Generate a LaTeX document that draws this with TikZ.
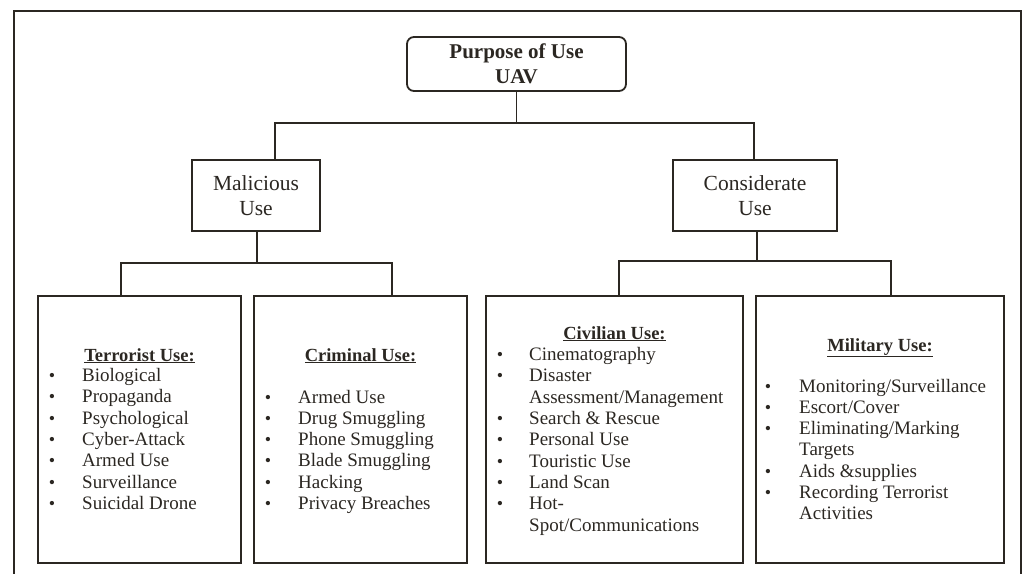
\documentclass[tikz,border=0pt]{standalone}
\usepackage{fontspec}
\setmainfont{Liberation Serif}
\usetikzlibrary{calc}
\definecolor{ink}{HTML}{2B2722}
\tikzset{
  x=1pt, y=-1pt,
  box/.style={draw=ink, line width=1.8pt, rectangle, inner sep=0pt, anchor=center, text=ink},
  link/.style={draw=ink, line width=1.8pt},
  frame/.style={draw=ink, line width=1.8pt},
  head/.style={font=\fontsize{18.5}{21}\selectfont\bfseries, text=ink, anchor=base, inner sep=0pt},
  entry/.style={font=\fontsize{19}{21}\selectfont, text=ink, anchor=base west, inner sep=0pt},
  dot/.style={font=\fontsize{18}{20}\selectfont, text=ink, anchor=base, inner sep=0pt}
}
% bullet list: prefix, bullet x, text x, first baseline, entries {flag}/{text}
\newcommand\bulletlist[5]{%
  \foreach \b/\t [count=\i from 0] in {#5} {
    \node[entry] (#1-t\i) at (#3, {#4 + \i*21.33}) {\t};
    \ifnum\b=1 \node[dot] (#1-b\i) at (#2, {#4 + \i*21.33}) {\textbullet}; \fi
  }%
}
\begin{document}
\begin{tikzpicture}
\useasboundingbox (0,0) rectangle (1024,573);
% outer frame (bottom edge lies below the page)
\draw[frame] (14,580) -- (14,11) -- (1021,11) -- (1021,580);

% boxes
\node[box, rounded corners=7pt, minimum width=219pt, minimum height=54pt, align=center,
      font=\fontsize{21}{25}\selectfont\bfseries] (root) at (516.5,64) {Purpose of Use\\UAV};
\node[box, minimum width=128pt, minimum height=71pt, align=center,
      font=\fontsize{21.5}{25}\selectfont] (mal) at (256,195.5) {Malicious\\Use};
\node[box, minimum width=164pt, minimum height=71pt, align=center,
      font=\fontsize{21.5}{25}\selectfont] (con) at (755,195.5) {Considerate\\Use};
\node[box, minimum width=203pt, minimum height=267pt] (terr) at (139.5,429.5) {};
\node[box, minimum width=213pt, minimum height=267pt] (crim) at (360.5,429.5) {};
\node[box, minimum width=257pt, minimum height=267pt] (civ) at (614.5,429.5) {};
\node[box, minimum width=248pt, minimum height=267pt] (mil) at (880,429.5) {};

% connectors
\coordinate (j0) at (516.5,123);
\coordinate (j1) at (257,263);
\coordinate (j2) at (757,261);
\draw[link] (root.south) -- (j0);
\draw[link] (j0) -| ([xshift=19pt]mal.north);
\draw[link] (j0) -| ([xshift=-1pt]con.north);
\draw[link] (mal.south -| j1) -- (j1);
\draw[link] (j1) -| ([xshift=-18.5pt]terr.north);
\draw[link] (j1) -| ([xshift=31.5pt]crim.north);
\draw[link] (con.south -| j2) -- (j2);
\draw[link] (j2) -| ([xshift=4.5pt]civ.north);
\draw[link] (j2) -| ([xshift=11pt]mil.north);

% headings
\node[head] (terr-h) at (139.5,361) {\underline{Terrorist Use:}};
\node[head] (crim-h) at (360.5,361) {\underline{Criminal Use:}};
\node[head] (civ-h)  at (614.5,339) {\underline{Civilian Use:}};
\node[head] (mil-h)  at (880,351)   {\underline{Military Use:}};

% lists
\bulletlist{terr}{52}{82}{381.5}{1/Biological,1/Propaganda,1/Psychological,1/Cyber-Attack,1/Armed Use,1/Surveillance,1/Suicidal Drone}
\bulletlist{crim}{268}{298}{403}{1/Armed Use,1/Drug Smuggling,1/Phone Smuggling,1/Blade Smuggling,1/Hacking,1/Privacy Breaches}
\bulletlist{civ}{500}{529}{360.5}{1/Cinematography,1/Disaster,0/{Assessment/Management},1/Search \& Rescue,1/Personal Use,1/Touristic Use,1/Land Scan,1/Hot-,0/{Spot/Communications}}
\bulletlist{mil}{768}{799}{392}{1/{Monitoring/Surveillance},1/{Escort/Cover},1/{Eliminating/Marking},0/Targets,1/Aids \&supplies,1/Recording Terrorist,0/Activities}
\end{tikzpicture}
\end{document}
